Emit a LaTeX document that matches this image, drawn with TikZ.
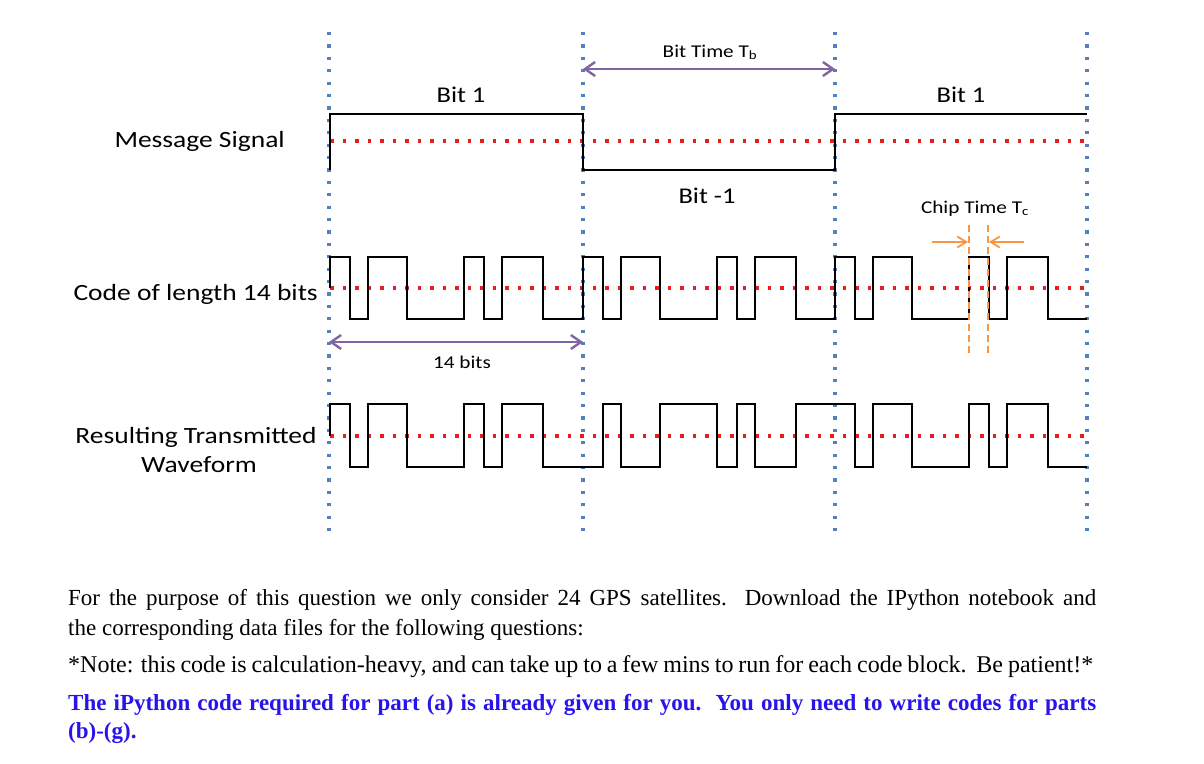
\documentclass[tikz,border=0pt]{standalone}
\usepackage{fontspec}
\setmainfont{Liberation Serif}
\newfontfamily\lbl[FakeStretch=1.18]{Carlito}
\usetikzlibrary{arrows.meta}
\definecolor{gridblue}{RGB}{85,128,190}
\definecolor{dotred}{RGB}{232,30,30}
\definecolor{arrpurple}{RGB}{128,100,162}
\definecolor{chiporange}{RGB}{247,150,70}
\definecolor{noteblue}{RGB}{40,20,235}
\tikzset{
  gridline/.style={gridblue, line width=3.2pt, dash pattern=on 3.2pt off 9.2pt},
  zeroline/.style={dotred, line width=3.6pt, dash pattern=on 3.6pt off 8.9pt},
  wave/.style={black, line width=2.9pt, line join=miter},
  spanarrow/.style={arrpurple, line width=2.4pt, {Straight Barb[length=10pt,width=14pt]}-{Straight Barb[length=10pt,width=14pt]}},
  chiparrow/.style={chiporange, line width=1.8pt, -{Straight Barb[length=9pt,width=11pt]}},
  chipdash/.style={chiporange, line width=2.3pt, dash pattern=on 7pt off 4pt},
  biglabel/.style={inner sep=0pt, font=\lbl\fontsize{23.3}{28}\selectfont},
  bitlabel/.style={inner sep=0pt, font=\lbl\fontsize{22.5}{27}\selectfont},
  smalllabel/.style={inner sep=0pt, font=\lbl\fontsize{18}{22}\selectfont},
  bodytext/.style={inner sep=0pt, anchor=base west, font=\fontsize{23}{28}\selectfont},
  bluetext/.style={bodytext, text=noteblue, font=\bfseries\fontsize{23}{28}\selectfont},
}
\begin{document}
\begin{tikzpicture}[x=1pt,y=-1pt]
\useasboundingbox (0,0) rectangle (1204,763);
% vertical bit boundaries
\foreach \gx in {329,583,835,1087} \draw[gridline] (\gx,32) -- (\gx,540);
% zero lines
\draw[zeroline] (330,141) -- (1087,141);
\draw[zeroline] (330,288) -- (1087,288);
\draw[zeroline] (330,436) -- (1087,436);
% message signal
\draw[wave] (330,170) |- (583,114) |- (835,170) |- (1087,114);
% code
\draw[wave] (330,288) |- (350,257) |- (368,319) |- (407,257) |- (464,319) |- (484,257) |- (502,319) |- (543,257) |- (583,319)
  |- (603,257) |- (621,319) |- (660,257) |- (717,319) |- (737,257) |- (755,319) |- (796,257) |- (835,319)
  |- (855,257) |- (873,319) |- (912,257) |- (969,319) |- (989,257) |- (1007,319) |- (1048,257) |- (1087,319);
% transmitted
\draw[wave] (330,436) |- (350,404) |- (368,467) |- (407,404) |- (464,467) |- (484,404) |- (502,467) |- (543,404)
  |- (603,467) |- (621,404) |- (660,467) |- (717,404) |- (737,467) |- (755,404) |- (796,467)
  |- (855,404) |- (873,467) |- (912,404) |- (969,467) |- (989,404) |- (1007,467) |- (1048,404) |- (1087,467);
% span arrows
\coordinate (tbL) at (583,69);
\coordinate (tbR) at (835,69);
\draw[spanarrow] (tbL) -- (tbR);
\coordinate (cbL) at (329,342);
\coordinate (cbR) at (583,342);
\draw[spanarrow] (cbL) -- (cbR);
% chip time
\coordinate (cdL1) at (969,225); \coordinate (cdL2) at (969,353);
\coordinate (cdR1) at (988,225); \coordinate (cdR2) at (988,353);
\draw[chipdash] (cdL1) -- (cdL2);
\draw[chipdash] (cdR1) -- (cdR2);
\coordinate (caL) at (932,242); \coordinate (caLt) at (968,242);
\coordinate (caR) at (1024,242); \coordinate (caRt) at (989,242);
\draw[chiparrow] (caL) -- (caLt);
\draw[chiparrow] (caR) -- (caRt);
% labels
\node[biglabel, anchor=base east] (msg) at (285,147) {Message Signal};
\node[biglabel, anchor=base east] (code) at (318,300) {Code of length 14 bits};
\node[biglabel, anchor=base] (trw1) at (196,443) {Resulting Transmitted};
\node[biglabel, anchor=base] (trw2) at (199,472) {Waveform};
\node[bitlabel, anchor=base] (bit1a) at (461,102) {Bit 1};
\node[bitlabel, anchor=base] (bitm) at (707,203) {Bit -1};
\node[bitlabel, anchor=base] (bit1b) at (961,102) {Bit 1};
\node[smalllabel, anchor=base] (tb) at (710,57) {Bit Time T\textsubscript{b}};
\node[smalllabel, anchor=base] (fourteen) at (462,368) {14 bits};
\node[smalllabel, anchor=base] (tc) at (975,213) {Chip Time T\textsubscript{c}};
% body text
\node[bodytext] (l1) at (68,605) {\makebox[1028pt][s]{For the purpose of this question we only consider 24 GPS satellites.\ \ Download the IPython notebook and}};
\node[bodytext] (l2) at (68,635) {the corresponding data files for the following questions:};
\node[bodytext, font=\fontsize{24}{28}\selectfont] (l3) at (68,672) {\makebox[1025pt][s]{*Note: this code is calculation-heavy, and can take up to a few mins to run for each code block.\ \ Be patient!*}};
\node[bluetext] (l4) at (68,710) {\makebox[1028pt][s]{The iPython code required for part (a) is already given for you.\ \ You only need to write codes for parts}};
\node[bluetext] (l5) at (68,738) {(b)-(g).};
\end{tikzpicture}
\end{document}
